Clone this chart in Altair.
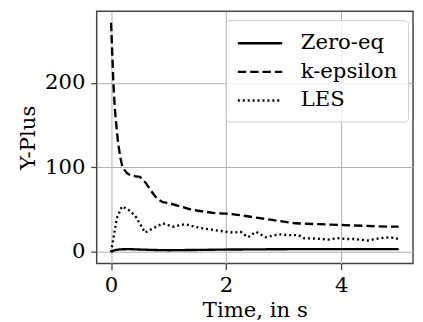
import altair as alt
import pandas as pd

# Zero-eq (solid)
t_zero = [0.0, 0.03, 0.08, 0.15, 0.3, 0.5, 0.8, 1.0, 1.3, 1.6, 2.0, 2.5, 3.0, 3.5, 4.0, 4.5, 5.0]
y_zero = [0.0, 1.5, 2.5, 3.2, 3.5, 3.0, 2.4, 2.2, 2.4, 2.6, 3.0, 3.2, 3.4, 3.5, 3.5, 3.5, 3.5]

# k-epsilon (dashed)
t_keps = [0.0, 0.02, 0.04, 0.06, 0.08, 0.12, 0.16, 0.2, 0.28, 0.36, 0.5, 0.6, 0.7, 0.8, 0.9,
          1.0, 1.2, 1.4, 1.6, 1.8, 2.0, 2.2, 2.4, 2.6, 2.8, 3.0, 3.2, 3.4, 3.6, 3.8, 4.0,
          4.2, 4.4, 4.6, 4.8, 5.0]
y_keps = [271, 235, 200, 175, 158, 130, 112, 100, 93, 90, 89, 82, 72, 63, 59,
          58, 54, 50, 48, 46, 45.5, 44, 42, 40, 38, 36, 34, 33.5, 33, 32.5, 32,
          31.5, 31, 30.5, 30, 30]

# LES (dotted)
t_les = [0.0, 0.05, 0.1, 0.19, 0.3, 0.42, 0.59, 0.76, 0.9, 1.07, 1.29, 1.45, 1.6, 1.9,
         2.12, 2.25, 2.38, 2.52, 2.69, 2.92, 3.1, 3.26, 3.35, 3.55, 3.78, 3.94, 4.1,
         4.23, 4.45, 4.68, 4.85, 5.0]
y_les = [0.0, 20, 40, 54, 50, 43, 23, 29, 34, 30, 33, 30, 28, 25,
         23, 24, 17.5, 24, 17.5, 21, 20, 20, 16.4, 16, 14.8, 16.4, 15.5,
         15.5, 13.6, 16.4, 17.5, 15.5]

series = ["Zero-eq", "k-epsilon", "LES"]
dashes = [[1, 0], [8.5, 4], [2, 3]]

rows = []
for name, ts, ys in [("Zero-eq", t_zero, y_zero), ("k-epsilon", t_keps, y_keps), ("LES", t_les, y_les)]:
    for t, y in zip(ts, ys):
        rows.append({"Time": t, "YPlus": y, "Model": name})
df = pd.DataFrame(rows)

FONT = "DejaVu Serif"
FS = 21.5

chart = alt.Chart(df).mark_line(color="black", strokeWidth=2.4, clip=True).encode(
    x=alt.X("Time:Q", title="Time, in s",
            scale=alt.Scale(domain=[-0.25, 5.25], nice=False, zero=False),
            axis=alt.Axis(values=[0, 2, 4], format="d")),
    y=alt.Y("YPlus:Q", title="Y-Plus",
            scale=alt.Scale(domain=[-13.55, 284.55], nice=False, zero=False),
            axis=alt.Axis(values=[0, 100, 200], format="d")),
    strokeDash=alt.StrokeDash("Model:N",
                              scale=alt.Scale(domain=series, range=dashes),
                              legend=alt.Legend(title=None, orient="none",
                                                legendX=131, legendY=9)),
    detail="Model:N",
).properties(
    width=321, height=256,
    autosize=alt.AutoSizeParams(type="none"),
    padding={"left": 90, "top": 1, "right": 2, "bottom": 57},
).configure_view(
    stroke="#444444", strokeWidth=1.5
).configure_axis(
    labelFont=FONT, titleFont=FONT, labelFontSize=FS, titleFontSize=FS,
    labelColor="black", titleColor="black", titleFontWeight="normal",
    grid=True, gridColor="#b0b0b0", gridWidth=1,
    domain=False, tickColor="#444444", tickSize=6, tickWidth=1.3,
).configure_axisY(
    labelPadding=6, titlePadding=5,
).configure_axisX(
    labelPadding=5, titlePadding=4,
).configure_legend(
    labelFont=FONT, labelFontSize=FS, labelColor="black",
    symbolType="M-1,0H3", symbolSize=506, symbolStrokeWidth=2.4,
    symbolStrokeColor="black",
    strokeColor="#cccccc", fillColor="rgba(255,255,255,0.8)",
    cornerRadius=4, padding=11, rowPadding=6, labelOffset=40,
)

chart.save("out.html", embed_options={"renderer": "svg", "actions": False})
